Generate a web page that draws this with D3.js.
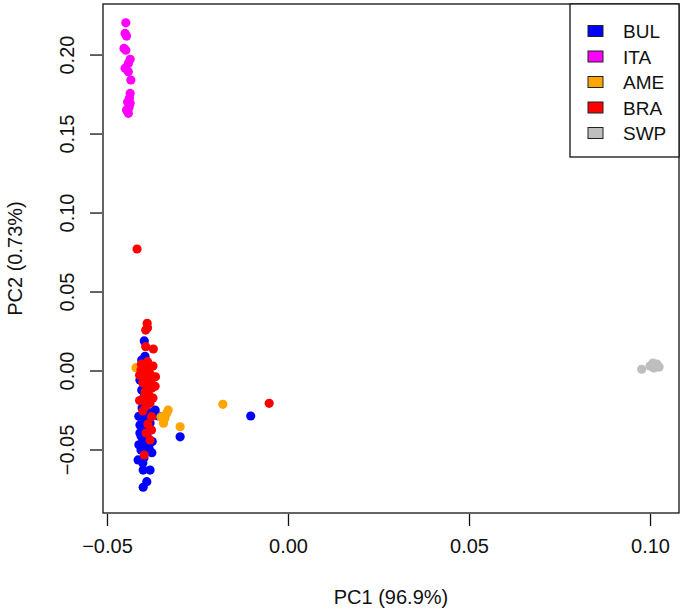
<!DOCTYPE html>
<html>
<head>
<meta charset="utf-8">
<script src="https://cdn.jsdelivr.net/npm/d3@7"></script>
<style>
  body { margin: 0; background: #fff; }
  svg text { font-family: "Liberation Sans", Arial, sans-serif; fill: #111; }
</style>
</head>
<body>
<div id="chart"></div>
<script>
// groups, in legend order
const groups = ["BUL", "ITA", "AME", "BRA", "SWP"]
const colors = ["#0000ff", "#ff00ff", "#ffa500", "#ff0000", "#bebebe"]

// PC1 / PC2 scores
const bulPC1 = [-0.0397,-0.0400,-0.0404,-0.0404,-0.0381,-0.0400,-0.0395,-0.0358,-0.0387,-0.0403,-0.0409,-0.0392,-0.0406,-0.0387,-0.0401,-0.0390,-0.0406,-0.0395,-0.0384,-0.0414,-0.0401,-0.0400,-0.0381,-0.0390,-0.0400,-0.0298,-0.0103,-0.0398,-0.0409,-0.0392,-0.0381,-0.0409,-0.0398,-0.0367,-0.0395,-0.0412,-0.0375,-0.0412,-0.0376]
const bulPC2 = [0.0187,0.0060,0.0066,-0.0123,-0.0187,-0.0208,-0.0313,-0.0288,-0.0263,-0.0237,-0.0345,-0.0364,-0.0415,-0.0427,-0.0453,-0.0478,-0.0503,-0.0516,-0.0491,-0.0566,-0.0585,-0.0630,-0.0630,-0.0704,-0.0739,-0.0420,-0.0288,-0.0168,-0.0060,-0.0301,-0.0332,-0.0396,-0.0554,-0.0250,0.0090,-0.0470,-0.0450,-0.0290,-0.0520]

const itaPC1 = [-0.0448,-0.0450,-0.0446,-0.0453,-0.0448,-0.0436,-0.0441,-0.0450,-0.0441,-0.0434,-0.0436,-0.0438,-0.0436,-0.0446,-0.0441,-0.0443,-0.0439]
const itaPC2 = [0.2201,0.2134,0.2117,0.2039,0.2028,0.1970,0.1944,0.1913,0.1891,0.1839,0.1754,0.1723,0.1691,0.1649,0.1628,0.1700,0.1665]

const amePC1 = [-0.0420,-0.0335,-0.0340,-0.0344,-0.0351,-0.0331,-0.0298,-0.0180]
const amePC2 = [0.0018,-0.0271,-0.0303,-0.0334,-0.0294,-0.0250,-0.0356,-0.0214]

const braPC1 = [-0.0389,-0.0393,-0.0388,-0.0393,-0.0372,-0.0388,-0.0395,-0.0384,-0.0398,-0.0381,-0.0392,-0.0378,-0.0401,-0.0387,-0.0376,-0.0395,-0.0384,-0.0398,-0.0381,-0.0392,-0.0377,-0.0401,-0.0387,-0.0377,-0.0392,-0.0397,-0.0381,-0.0417,-0.0052,-0.0406,-0.0373,-0.0390,-0.0373,-0.0410,-0.0367,-0.0410,-0.0366,-0.0405]
const braPC2 = [0.0299,0.0256,0.0271,0.0151,0.0136,0.0056,0.0035,0.0016,-0.0009,-0.0022,-0.0047,-0.0060,-0.0079,-0.0092,-0.0111,-0.0136,-0.0155,-0.0174,-0.0206,-0.0225,-0.0292,-0.0256,-0.0339,-0.0377,-0.0396,-0.0535,-0.0440,0.0769,-0.0208,0.0003,0.0028,-0.0123,-0.0174,-0.0030,-0.0100,-0.0190,-0.0040,0.0040]

const swpPC1 = [0.0977,0.1000,0.1008,0.1019,0.1025,0.1011,0.1016]
const swpPC2 = [0.0008,0.0028,0.0047,0.0041,0.0022,0.0016,0.0035]

const xTicks = [-0.05, 0.00, 0.05, 0.10]
const yTicks = [-0.05, 0.00, 0.05, 0.10, 0.15, 0.20]

const width = 685, height = 615
const box = { left: 103, right: 679, top: 4, bottom: 513 }

const pc1 = [bulPC1, itaPC1, amePC1, braPC1, swpPC1]
const pc2 = [bulPC2, itaPC2, amePC2, braPC2, swpPC2]
let points = []
groups.forEach((g, i) => {
  pc1[i].forEach((v, j) => points.push({ group: g, pc1: v, pc2: pc2[i][j] }))
})

const color = d3.scaleOrdinal().domain(groups).range(colors)

const x = d3.scaleLinear().domain([-0.0511, 0.108]).range([box.left, box.right])
const y = d3.scaleLinear().domain([-0.0902, 0.232]).range([box.bottom, box.top])

const svg = d3.select("#chart").append("svg")
  .attr("width", width)
  .attr("height", height)

// points
svg.append("g")
  .selectAll("circle")
  .data(points)
  .enter().append("circle")
    .attr("cx", d => x(d.pc1))
    .attr("cy", d => y(d.pc2))
    .attr("r", 4.6)
    .attr("fill", d => color(d.group))

// frame
svg.append("rect")
  .attr("x", box.left).attr("y", box.top)
  .attr("width", box.right - box.left).attr("height", box.bottom - box.top)
  .attr("fill", "none").attr("stroke", "#111").attr("stroke-width", 1.3)

// x axis
const xAxis = svg.append("g")
  .attr("transform", "translate(0," + (box.bottom + 1) + ")")
  .call(d3.axisBottom(x).tickValues(xTicks).tickFormat(d3.format(".2f")).tickSize(12).tickSizeOuter(0))
xAxis.select(".domain").remove()
xAxis.selectAll("line").attr("stroke", "#111").attr("stroke-width", 1.3)
xAxis.selectAll("text")
  .attr("y", 39).attr("dy", null)
  .attr("font-size", 20).attr("fill", "#111")

// y axis
const yAxis = svg.append("g")
  .attr("transform", "translate(" + (box.left - 1) + ",0)")
  .call(d3.axisLeft(y).tickValues(yTicks).tickFormat(d3.format(".2f")).tickSize(12).tickSizeOuter(0))
yAxis.select(".domain").remove()
yAxis.selectAll("line").attr("stroke", "#111").attr("stroke-width", 1.3)
yAxis.selectAll("text")
  .attr("x", 0).attr("y", -28).attr("dy", null)
  .attr("transform", "rotate(-90)")
  .attr("text-anchor", "middle")
  .attr("font-size", 20).attr("fill", "#111")

// axis titles
svg.append("text")
  .attr("x", (box.left + box.right) / 2).attr("y", 604)
  .attr("text-anchor", "middle").attr("font-size", 20)
  .text("PC1 (96.9%)")
svg.append("text")
  .attr("transform", "translate(22," + (box.top + box.bottom) / 2 + ") rotate(-90)")
  .attr("text-anchor", "middle").attr("font-size", 20)
  .text("PC2 (0.73%)")

// legend
svg.append("rect")
  .attr("x", 570).attr("y", box.top)
  .attr("width", box.right - 570).attr("height", 157 - box.top)
  .attr("fill", "#fff").attr("stroke", "#111").attr("stroke-width", 1.3)
const rows = svg.append("g").selectAll("g")
  .data(groups)
  .enter().append("g")
    .attr("transform", (d, i) => "translate(0," + (31 + i * 25.5) + ")")
rows.append("rect")
  .attr("x", 588).attr("y", -5.5)
  .attr("width", 15).attr("height", 11)
  .attr("fill", d => color(d))
  .attr("stroke", "#222").attr("stroke-width", 1)
rows.append("text")
  .attr("x", 623).attr("y", 7)
  .attr("font-size", 19)
  .text(d => d)
</script>
</body>
</html>
